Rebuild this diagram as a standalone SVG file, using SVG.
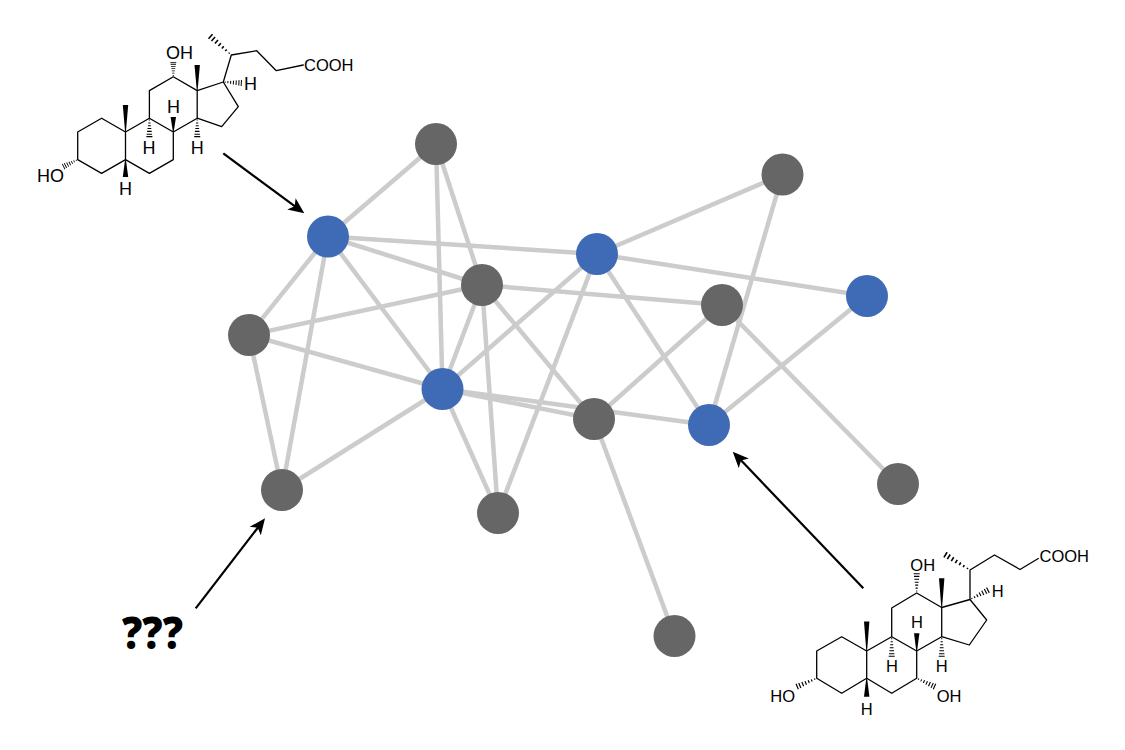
<svg xmlns="http://www.w3.org/2000/svg" xmlns:xlink="http://www.w3.org/1999/xlink" width="1125" height="750" viewBox="0 0 1125 750">
<style>
.edge{stroke:#cccccc;stroke-width:4.5;fill:none}
.gray{fill:#666666}
.blue{fill:#3f6ab5}
.arrow{stroke:#000;stroke-width:2.2;fill:none;marker-end:url(#ah)}
.bond{stroke:#000;stroke-width:1.3;fill:none;stroke-linejoin:round;stroke-linecap:round}
.lbl{font-family:"Liberation Sans",Arial,sans-serif;fill:#000}
.m1{font-size:18px}
.m2{font-size:16.5px}
.q{font-family:"Open Sans","Liberation Sans",sans-serif;font-weight:800;font-size:44px;fill:#000}
</style>
<defs>
<marker id="ah" markerUnits="userSpaceOnUse" markerWidth="17" markerHeight="15" refX="12" refY="7" orient="auto" viewBox="0 0 17 14">
<path d="M0,0 L16,7 L0,14 L4,7 Z" fill="#000"/>
</marker>
<path id="hash" d="M2,-0.6V0.6M5,-1.1V1.1M8,-1.5V1.5M11,-1.9V1.9M14,-2.3V2.3M17,-2.7V2.7M19.6,-3V3" stroke="#000" stroke-width="1.1" fill="none"/>
<polygon id="wedge" points="0,-0.4 20,-2.7 20,2.7 0,0.4" fill="#000"/>
</defs>
<rect width="1125" height="750" fill="#ffffff"/>

<g id="connectors">
<line class="edge" x1="436" y1="144" x2="328" y2="236.5"/>
<line class="edge" x1="436" y1="144" x2="482" y2="285"/>
<line class="edge" x1="436" y1="144" x2="442.5" y2="389"/>
<line class="edge" x1="328" y1="236.5" x2="597" y2="254"/>
<line class="edge" x1="328" y1="236.5" x2="482" y2="285"/>
<line class="edge" x1="328" y1="236.5" x2="442.5" y2="389"/>
<line class="edge" x1="328" y1="236.5" x2="249" y2="335"/>
<line class="edge" x1="328" y1="236.5" x2="282" y2="490"/>
<line class="edge" x1="249" y1="335" x2="482" y2="285"/>
<line class="edge" x1="249" y1="335" x2="442.5" y2="389"/>
<line class="edge" x1="249" y1="335" x2="282" y2="490"/>
<line class="edge" x1="482" y1="285" x2="722" y2="305"/>
<line class="edge" x1="482" y1="285" x2="594" y2="419"/>
<line class="edge" x1="482" y1="285" x2="498" y2="513"/>
<line class="edge" x1="482" y1="285" x2="442.5" y2="389"/>
<line class="edge" x1="597" y1="254" x2="782.5" y2="174.5"/>
<line class="edge" x1="597" y1="254" x2="867" y2="296"/>
<line class="edge" x1="597" y1="254" x2="442.5" y2="389"/>
<line class="edge" x1="597" y1="254" x2="498" y2="513"/>
<line class="edge" x1="597" y1="254" x2="709" y2="425"/>
<line class="edge" x1="722" y1="305" x2="594" y2="419"/>
<line class="edge" x1="722" y1="305" x2="898" y2="484"/>
<line class="edge" x1="782.5" y1="174.5" x2="709" y2="425"/>
<line class="edge" x1="867" y1="296" x2="709" y2="425"/>
<line class="edge" x1="442.5" y1="389" x2="594" y2="419"/>
<line class="edge" x1="442.5" y1="389" x2="709" y2="425"/>
<line class="edge" x1="442.5" y1="389" x2="282" y2="490"/>
<line class="edge" x1="442.5" y1="389" x2="498" y2="513"/>
<line class="edge" x1="594" y1="419" x2="674.5" y2="636"/>
<line class="arrow" x1="223.3" y1="153.3" x2="301.1" y2="210.9"/>
<line class="arrow" x1="195.7" y1="608.3" x2="262.6" y2="521.5"/>
<line class="arrow" x1="863.3" y1="588.3" x2="735.5" y2="454.6"/>
</g>

<g id="node-n1"><circle class="gray" cx="436" cy="144" r="21"/></g>
<g id="node-n2"><circle class="gray" cx="782.5" cy="174.5" r="21"/></g>
<g id="node-n3"><circle class="gray" cx="482" cy="285" r="21"/></g>
<g id="node-n4"><circle class="gray" cx="722" cy="305" r="21"/></g>
<g id="node-n5"><circle class="gray" cx="249" cy="335" r="21"/></g>
<g id="node-n6"><circle class="gray" cx="594" cy="419" r="21"/></g>
<g id="node-n7"><circle class="gray" cx="282" cy="490" r="21"/></g>
<g id="node-n8"><circle class="gray" cx="498" cy="513" r="21"/></g>
<g id="node-n9"><circle class="gray" cx="898" cy="484" r="21"/></g>
<g id="node-n10"><circle class="gray" cx="674.5" cy="636" r="21"/></g>
<g id="node-b1"><circle class="blue" cx="328" cy="236.5" r="21"/></g>
<g id="node-b2"><circle class="blue" cx="597" cy="254" r="21"/></g>
<g id="node-b3"><circle class="blue" cx="867" cy="296" r="21"/></g>
<g id="node-b4"><circle class="blue" cx="442.5" cy="389" r="21"/></g>
<g id="node-b5"><circle class="blue" cx="709" cy="425" r="21"/></g>

<g id="unknown-label"><text class="q" x="122" y="649" textLength="61" lengthAdjust="spacingAndGlyphs">???</text></g>

<g id="molecule-1">
<path class="bond" d="M101.6,118.2 L77.7,132 L77.7,159.6 L101.6,173.4 L125.5,159.6 L125.5,132 Z M125.5,132 L149.4,118.2 L173.3,132 L173.3,159.6 L149.4,173.4 L125.5,159.6 M149.4,118.2 L149.4,90.6 L173.3,76.8 L197.2,90.6 L197.2,118.2 L173.3,132 M197.2,90.6 L223.3,82 L238.3,106.7 L221.7,126.7 L197.2,118.2 M223.3,82 L231.3,55 L256.7,50.7 L276.3,70.7 L303.3,65"/>
<use xlink:href="#wedge" href="#wedge" transform="translate(125.5,132) rotate(-90) scale(1.35,1)"/>
<use xlink:href="#wedge" href="#wedge" transform="translate(197.2,90.6) rotate(-90) scale(1.28,1)"/>
<use xlink:href="#wedge" href="#wedge" transform="translate(173.3,132) rotate(-90) scale(0.75,1)"/>
<use xlink:href="#wedge" href="#wedge" transform="translate(125.5,159.6) rotate(90) scale(0.87,1)"/>
<use xlink:href="#hash" href="#hash" transform="translate(149.4,118.2) rotate(90) scale(0.94,1)"/>
<use xlink:href="#hash" href="#hash" transform="translate(197.2,118.2) rotate(90) scale(0.94,1)"/>
<use xlink:href="#hash" href="#hash" transform="translate(77.7,159.6) rotate(153.8) scale(0.8,1)"/>
<use xlink:href="#hash" href="#hash" transform="translate(173.3,76.8) rotate(-90) scale(0.74,1)"/>
<use xlink:href="#hash" href="#hash" transform="translate(223.3,82) rotate(3) scale(0.92,1)"/>
<use xlink:href="#hash" href="#hash" transform="translate(231.3,55) rotate(-138.3) scale(1.42,1)"/>
<text class="lbl m1" x="166" y="59.3">OH</text>
<text class="lbl m1" x="244" y="89.5">H</text>
<text class="lbl m1" x="173.5" y="113.3" text-anchor="middle">H</text>
<text class="lbl m1" x="149" y="153.5" text-anchor="middle">H</text>
<text class="lbl m1" x="197.2" y="153.5" text-anchor="middle">H</text>
<text class="lbl m1" x="125.5" y="194.5" text-anchor="middle">H</text>
<text class="lbl m1" x="64" y="182" text-anchor="end">HO</text>
<text class="lbl" x="304" y="71" font-size="16.5">COOH</text>
</g>

<g id="molecule-2">
<path class="bond" d="M841.7,636.7 L816.7,651 L816.7,678.3 L841.7,693.3 L866.7,678.3 L866.7,651 Z M866.7,651 L891.7,636.7 L916.7,651 L916.7,678.3 L891.7,693.3 L866.7,678.3 M891.7,636.7 L891.7,608 L916.7,593 L941.7,607.5 L941.7,636.7 L916.7,651 M941.7,607.5 L970,599.5 L986.7,620 L969.3,645 L941.7,636.7 M970,599.5 L970,570 L994.5,555 L1020,569.5 L1038.3,558.5"/>
<use xlink:href="#wedge" href="#wedge" transform="translate(866.7,651) rotate(-90) scale(1.47,1)"/>
<use xlink:href="#wedge" href="#wedge" transform="translate(941.7,607.5) rotate(-90) scale(1.46,1)"/>
<use xlink:href="#wedge" href="#wedge" transform="translate(916.7,651) rotate(-90) scale(0.89,1)"/>
<use xlink:href="#wedge" href="#wedge" transform="translate(866.7,678.3) rotate(90) scale(0.92,1)"/>
<use xlink:href="#hash" href="#hash" transform="translate(891.7,636.7) rotate(90) scale(1,1)"/>
<use xlink:href="#hash" href="#hash" transform="translate(941.7,636.7) rotate(90) scale(1,1)"/>
<use xlink:href="#hash" href="#hash" transform="translate(816.7,678.3) rotate(157.2) scale(1.08,1)"/>
<use xlink:href="#hash" href="#hash" transform="translate(916.7,678.3) rotate(24.7) scale(1,1)"/>
<use xlink:href="#hash" href="#hash" transform="translate(916.7,593) rotate(-90) scale(0.98,1)"/>
<use xlink:href="#hash" href="#hash" transform="translate(970,599.5) rotate(-27.4) scale(1.03,1)"/>
<use xlink:href="#hash" href="#hash" transform="translate(970,570) rotate(-148.2) scale(1.47,1)"/>
<text class="lbl m2" x="910.3" y="570.7">OH</text>
<text class="lbl m2" x="991.7" y="596.7">H</text>
<text class="lbl m2" x="917" y="628.3" text-anchor="middle">H</text>
<text class="lbl m2" x="892" y="671.7" text-anchor="middle">H</text>
<text class="lbl m2" x="941.7" y="671.7" text-anchor="middle">H</text>
<text class="lbl m2" x="866.7" y="715" text-anchor="middle">H</text>
<text class="lbl m2" x="795" y="701.7" text-anchor="end">HO</text>
<text class="lbl m2" x="936.7" y="701.7">OH</text>
<text class="lbl" x="1039.5" y="562" font-size="16.5">COOH</text>
</g>
</svg>
